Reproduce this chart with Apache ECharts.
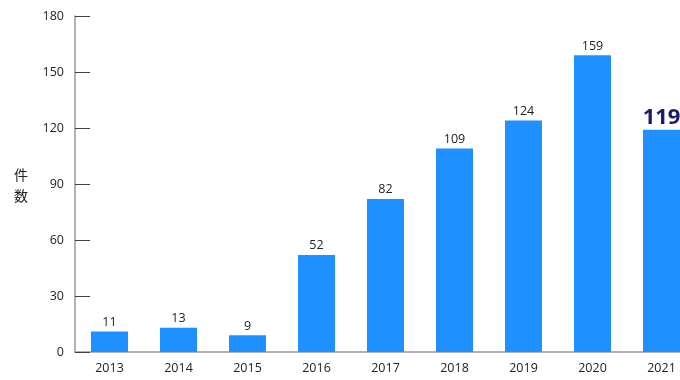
<!DOCTYPE html>
<html><head><meta charset="utf-8">
<script src="https://cdn.jsdelivr.net/npm/echarts@6/dist/echarts.min.js"></script>
<style>html,body{margin:0;padding:0;background:#fff;overflow:hidden;width:680px;height:380px}#c{width:696px;height:380px}</style>
</head><body><div id="c"></div>
<script>
const categories = ['2013','2014','2015','2016','2017','2018','2019','2020','2021'];
const counts = [11, 13, 9, 52, 82, 109, 124, 159, 119];
const yTicks = [0, 30, 60, 90, 120, 150, 180];
const yName = '件数';
const FONT = '"Open Sans", "Noto Sans", "Noto Sans CJK JP", sans-serif';
const chart = echarts.init(document.getElementById('c'));
const last = counts.length - 1;
chart.setOption({
  animation: false,
  textStyle: { fontFamily: FONT },
  grid: { left: 75, right: 0, top: 16, bottom: 28, containLabel: false },
  xAxis: {
    type: 'category', data: categories,
    axisLine: { lineStyle: { color: '#999', width: 1.5 } },
    axisTick: { show: false },
    axisLabel: { color: '#222', fontSize: 12.5, margin: 10, fontFamily: FONT }
  },
  yAxis: {
    type: 'value', min: yTicks[0], max: yTicks[yTicks.length - 1], interval: 30,
    axisLine: { show: true, lineStyle: { color: '#999', width: 1.5 } },
    axisTick: { show: true, inside: true, length: 15, lineStyle: { color: '#444' } },
    axisLabel: { color: '#222', fontSize: 12.5, margin: 11, fontFamily: FONT },
    splitLine: { show: false }
  },
  graphic: [{
    type: 'text', left: 14, top: 164,
    style: { text: yName.split('').join('\n'), fill: '#222', font: '14px "Noto Sans CJK JP", sans-serif', lineHeight: 21 }
  }],
  series: [{
    type: 'bar', barWidth: 37,
    data: counts.map((v, i) => i === last ? {
      value: v,
      label: { fontSize: 22, fontWeight: 'bold', color: '#1b1b6b', distance: 1 }
    } : v),
    itemStyle: { color: '#1E90FF' },
    label: { show: true, position: 'top', color: '#222', fontSize: 12.5, distance: 3, fontFamily: FONT }
  }]
});
</script></body></html>
